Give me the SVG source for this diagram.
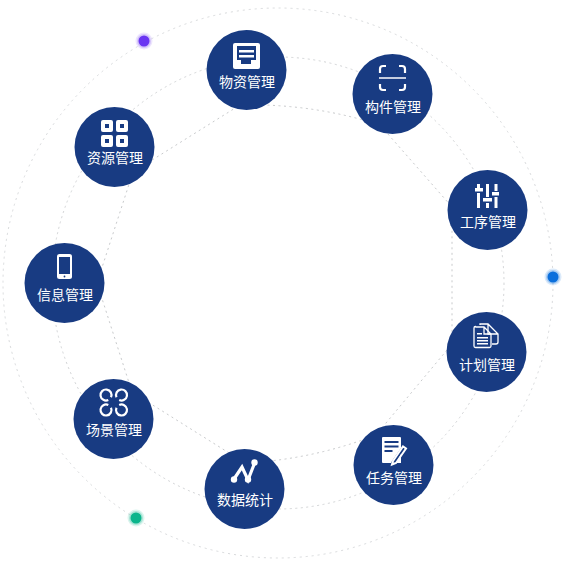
<svg xmlns="http://www.w3.org/2000/svg" width="564" height="564" viewBox="0 0 564 564">
<style>
.ring{fill:none;stroke:#d8dadc;stroke-width:1;stroke-dasharray:2 4}
.mid{stroke:#d2d4d6;stroke-dasharray:2 3.500}
.inner{fill:none;stroke:#c8cacc;stroke-width:1;stroke-dasharray:2 3.500}
.disc{fill:#183b82}
text{font-family:"Noto Sans CJK SC","Noto Sans",sans-serif;font-size:14px;fill:#fff;text-anchor:middle}
.w{fill:#fff}.o{fill:none;stroke:#fff}
</style>
<g id="connectors">
<circle class="ring" cx="278" cy="283" r="275"/>
<circle class="ring mid" cx="278" cy="283" r="226"/>
<path class="inner" d="M240 105A420 420 0 0 1 380 125L452 207V344L376 435A420 420 0 0 1 245 463L132 392 97 283 133 172Z"/>
</g>
<g id="dot-purple"><circle cx="144" cy="41" r="8.500" fill="#6a35f2" opacity=".12"/><circle cx="144" cy="41" r="7" fill="#6a35f2" opacity=".2"/><circle cx="144" cy="41" r="5.500" fill="#6a35f2"/></g>
<g id="dot-blue"><circle cx="553" cy="277" r="8.500" fill="#0b6fdc" opacity=".15"/><circle cx="553" cy="277" r="7" fill="#0b6fdc" opacity=".25"/><circle cx="553" cy="277" r="5.500" fill="#0b6fdc"/></g>
<g id="dot-green"><circle cx="136" cy="518" r="8.500" fill="#0bb58c" opacity=".15"/><circle cx="136" cy="518" r="7" fill="#0bb58c" opacity=".25"/><circle cx="136" cy="518" r="5.500" fill="#0bb58c"/></g>

<g id="node-wuzi"><circle class="disc" cx="246.500" cy="70" r="40"/>
<rect class="w" x="233" y="43" width="27" height="26" rx="2"/>
<path fill="#183b82" d="M237 46h19v14h-5v4h-10v-4h-4z"/>
<path class="w" d="M239 50h15v2.500h-15zM239 55h15v2.500h-15z"/>
<text x="247" y="87">物资管理</text></g>

<g id="node-goujian"><circle class="disc" cx="392.500" cy="94" r="40"/>
<path class="o" stroke-width="2.200" d="M386 66h-3a3 3 0 0 0-3 3v4M399 66h3a3 3 0 0 1 3 3v4M386 90h-3a3 3 0 0 1-3-3v-3M399 90h3a3 3 0 0 0 3-3v-3"/>
<path class="o" stroke-width="1.500" d="M379 78h27"/>
<text x="393" y="112">构件管理</text></g>

<g id="node-gongxu"><circle class="disc" cx="487.500" cy="210" r="40"/>
<path class="w" d="M477 184h3v4h-3zM475 188h8v3.500h-8zM477 193h3v15h-3zM486 184h3v13h-3zM483 198h9v3.500h-9zM486 203h3v5h-3zM494.500 184h3v7h-3zM492 192h7v3.500h-7zM494.500 197h3v11h-3z"/>
<text x="488" y="227">工序管理</text></g>

<g id="node-jihua"><circle class="disc" cx="486.500" cy="352" r="40"/>
<path class="o" stroke-width="1.300" d="M480 325v-1h8l10 10v8a2 2 0 0 1-2 2h-4M488 324v10h10"/>
<path class="o" stroke-width="1.300" d="M476 327h8l7 7v12a1.500 1.500 0 0 1-1.500 1.500h-14a1.500 1.500 0 0 1-1.500-1.500v-18a1.500 1.500 0 0 1 1.500-1.500zM484 327v7h7"/>
<path class="w" d="M477 333h5v1.500h-5zM477 337h11v1.500h-11zM477 340h11v1.500h-11zM477 343h11v1.500h-11z"/>
<text x="487" y="370">计划管理</text></g>

<g id="node-renwu"><circle class="disc" cx="393.500" cy="465" r="40"/>
<path class="w" d="M383 437h17a1 1 0 0 1 1 1v10l-9 13-1 2h-8a1 1 0 0 1-1-1v-24a1 1 0 0 1 1-1z"/>
<path fill="#183b82" d="M384.500 441h14v2h-14zM384.500 445.500h14v2h-14zM384.500 450h8v2h-8z"/>
<path class="o" stroke-width="2" d="M393 461l10-14.500 3 2-10 14.500-4 1.500z"/>
<path class="w" d="M401 463v-9l-5 9z"/>
<text x="394" y="483">任务管理</text></g>

<g id="node-shuju"><circle class="disc" cx="244.500" cy="489" r="40"/>
<path class="o" stroke-width="3.200" d="M234 479l8-12 6 13 7-18"/>
<circle class="w" cx="234" cy="479.500" r="3.200"/><circle class="w" cx="248" cy="479.500" r="3.200"/><circle class="w" cx="254.500" cy="462.500" r="3.200"/>
<text x="245" y="505">数据统计</text></g>

<g id="node-changjing"><circle class="disc" cx="113.500" cy="419" r="40"/>
<path class="o" stroke-width="2.200" d="M111 397.300A5.500 5.500 0 1 0 108.300 400M116.500 397.300A5.500 5.500 0 1 1 119.200 400M111 407.700A5.500 5.500 0 1 1 108.300 405M116.500 407.700A5.500 5.500 0 1 0 119.200 405"/>
<text x="114" y="435">场景管理</text></g>

<g id="node-xinxi"><circle class="disc" cx="64.500" cy="283" r="40"/>
<rect class="w" x="57" y="254" width="15" height="25" rx="2.500"/>
<rect fill="#183b82" x="59" y="257" width="11" height="17"/>
<circle fill="#183b82" cx="64.500" cy="276.500" r="0.900"/>
<text x="65" y="300">信息管理</text></g>

<g id="node-ziyuan"><circle class="disc" cx="114.500" cy="147" r="40"/>
<rect class="w" x="101" y="120" width="12" height="12" rx="2"/><rect class="w" x="116" y="120" width="12" height="12" rx="2"/><rect class="w" x="101" y="135" width="12" height="12" rx="2"/><rect class="w" x="116" y="135" width="12" height="12" rx="2"/>
<rect class="disc" x="105" y="124" width="4" height="4"/><rect class="disc" x="120" y="124" width="4" height="4"/><rect class="disc" x="105" y="139" width="4" height="4"/><rect class="disc" x="120" y="139" width="4" height="4"/>
<text x="115" y="163">资源管理</text></g>
</svg>
